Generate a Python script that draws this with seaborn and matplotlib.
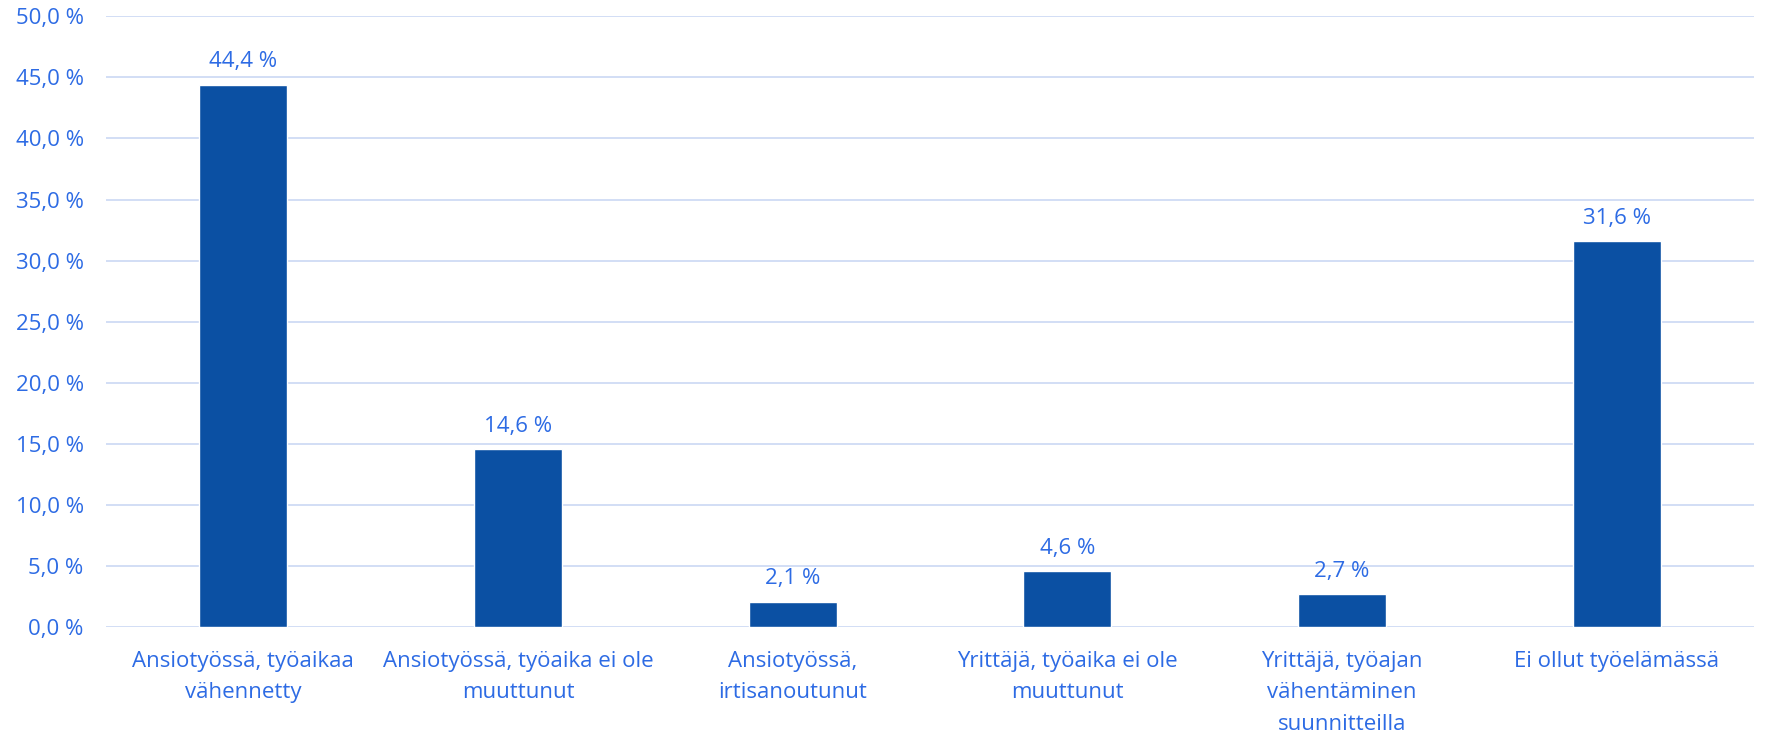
import matplotlib
matplotlib.use("Agg")
import matplotlib.pyplot as plt
import seaborn as sns
import pandas as pd

categories = [
    "Ansiotyössä, työaikaa\nvähennetty",
    "Ansiotyössä, työaika ei ole\nmuuttunut",
    "Ansiotyössä,\nirtisanoutunut",
    "Yrittäjä, työaika ei ole\nmuuttunut",
    "Yrittäjä, työajan\nvähentäminen\nsuunnitteilla",
    "Ei ollut työelämässä",
]
values = [44.4, 14.6, 2.1, 4.6, 2.7, 31.6]
y_ticks = [0, 5, 10, 15, 20, 25, 30, 35, 40, 45, 50]

BAR = "#0B50A3"
TEXT = "#2D6BE4"
GRID = "#CFDBF5"

sns.set_style("white")
plt.rcParams["font.family"] = ["Open Sans", "DejaVu Sans"]

df = pd.DataFrame({"cat": categories, "val": values})

fig = plt.figure(figsize=(17.78, 7.38), dpi=100)
ax = fig.add_axes([0.0596, 0.150, 0.927, 0.828])

sns.barplot(data=df, x="cat", y="val", color=BAR, width=0.32,
            saturation=1, ax=ax, zorder=3)

ax.set_ylim(0, 50)
ax.set_yticks(y_ticks)
ax.set_yticklabels([f"{t:.1f} %".replace(".", ",") for t in y_ticks])
ax.grid(axis="y", color=GRID, linewidth=1.3, zorder=0)
ax.set_axisbelow(True)
for s in ax.spines.values():
    s.set_visible(False)
ax.tick_params(axis="both", length=0, labelsize=16, labelcolor=TEXT)
ax.tick_params(axis="x", pad=17)
ax.tick_params(axis="y", pad=16)
for lbl in ax.get_xticklabels():
    lbl.set_linespacing(1.65)
ax.set_xlabel("")
ax.set_ylabel("")

for i, v in enumerate(values):
    ax.text(i, v + 1.0, f"{v:.1f} %".replace(".", ","), ha="center",
            va="bottom", fontsize=16, color=TEXT)

fig.savefig("out.png", dpi=100)
